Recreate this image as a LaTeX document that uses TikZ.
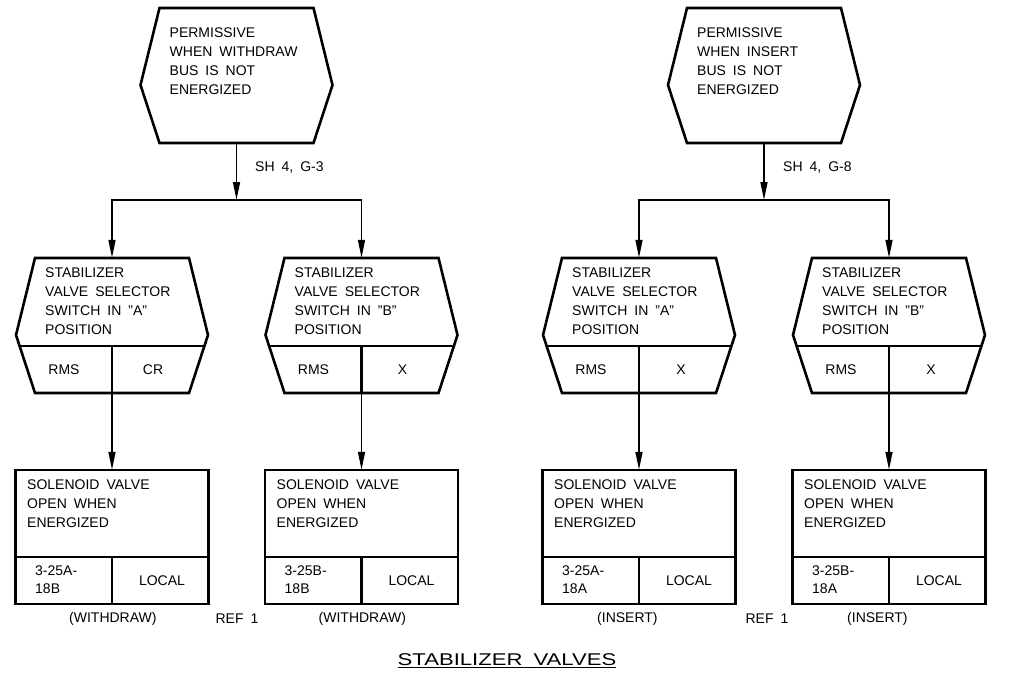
\documentclass[tikz,border=0pt]{standalone}
\usepackage{fontspec}
\setmainfont{Liberation Sans}[WordSpace=1.8]
\newfontfamily\titlefont{Liberation Sans}[FakeStretch=1.3, WordSpace=1.8]
\usetikzlibrary{arrows.meta}
\tikzset{
  outline/.style = {line width=2.6pt, line join=miter},
  conn/.style = {line width=1.5pt, -{Triangle[length=18pt, width=7pt]}},
  txt/.style = {align=left, inner sep=0pt, anchor=north west,
    font=\fontsize{14}{19}\selectfont},% text block, top left
  cell/.style = {inner sep=0pt, font=\fontsize{14}{19}\selectfont},
  hexarea/.style = {rectangle, minimum width=192pt, minimum height=135pt,
    inner sep=0pt},% room of a hexagon block
  solarea/.style = {rectangle, minimum width=193pt, minimum height=134pt,
    inner sep=0pt},% room of a valve block
  hexline/.pic = {
    \draw[outline] (-77,-67.5) -- (77,-67.5) -- (96,9.5) -- (77,67.5)
      -- (-77,67.5) -- (-96,9.5) -- cycle;},
  selline/.pic = {
    \draw[outline] (-77,-67.5) -- (77,-67.5) -- (96,9.5) -- (77,67.5)
      -- (-77,67.5) -- (-96,9.5) -- cycle;
    \draw[outline] (-92.4,20.5) -- (92.4,20.5);
    \draw[outline] (0,20.5) -- (0,67.5);},
  solline/.pic = {
    \draw[outline] (-96.5,-67) rectangle (96.5,67);
    \draw[outline] (-96.5,20) -- (96.5,20);
    \draw[outline] (0,20) -- (0,67);}
}

\begin{document}
\begin{tikzpicture}[x=1pt, y=-1pt]
\useasboundingbox (0,0) rectangle (1014,685);

% withdraw side
\node[hexarea] (permW) at (236.5,75.5) {};
\pic at (permW) {hexline};
\node[txt] (permWtxt) at (169.5,28) {PERMISSIVE\\WHEN WITHDRAW\\BUS IS NOT\\ENERGIZED};
\coordinate (jW) at (236.5,200);
\node[cell, anchor=west] (shW) at (255,168) {SH 4, G-3};

\node[hexarea] (selWA) at (112,325.5) {};
\pic at (selWA) {selline};
\node[txt] (selWAtxt) at (45,268) {STABILIZER\\VALVE SELECTOR\\SWITCH IN "A"\\POSITION};
\node[cell] (selWArms) at (64,369.5) {RMS};
\node[cell] (selWAsta) at (153,369.5) {CR};

\node[hexarea] (selWB) at (361.5,325.5) {};
\pic at (selWB) {selline};
\node[txt] (selWBtxt) at (294.5,268) {STABILIZER\\VALVE SELECTOR\\SWITCH IN "B"\\POSITION};
\node[cell] (selWBrms) at (313.5,369.5) {RMS};
\node[cell] (selWBsta) at (402.5,369.5) {X};

\node[solarea] (solWA) at (112,537) {};
\pic at (solWA) {solline};
\node[txt] (solWAtxt) at (27,480) {SOLENOID VALVE\\OPEN WHEN\\ENERGIZED};
\node[txt, font=\fontsize{14}{18}\selectfont] (solWAtag) at (35,566) {3-25A-\\18B};
\node[cell] (solWAloc) at (162,580.5) {LOCAL};
\node[cell, anchor=west] (solWAside) at (69,619) {(WITHDRAW)};

\node[solarea] (solWB) at (361.5,537) {};
\pic at (solWB) {solline};
\node[txt] (solWBtxt) at (276.5,480) {SOLENOID VALVE\\OPEN WHEN\\ENERGIZED};
\node[txt, font=\fontsize{14}{18}\selectfont] (solWBtag) at (284.5,566) {3-25B-\\18B};
\node[cell] (solWBloc) at (411.5,580.5) {LOCAL};
\node[cell, anchor=west] (solWBside) at (318.5,619) {(WITHDRAW)};

\node[cell] (refW) at (237,619) {REF 1};

\draw[conn] (permW.south) -- (jW);
\draw[conn] (jW) -| (selWA.north);
\draw[conn] (jW) -| (selWB.north);
\draw[conn] (selWA.south) -- (solWA.north);
\draw[conn] (selWB.south) -- (solWB.north);

% insert side
\node[hexarea] (permI) at (764,75.5) {};
\pic at (permI) {hexline};
\node[txt] (permItxt) at (697,28) {PERMISSIVE\\WHEN INSERT\\BUS IS NOT\\ENERGIZED};
\coordinate (jI) at (764,200);
\node[cell, anchor=west] (shI) at (783,168) {SH 4, G-8};

\node[hexarea] (selIA) at (639,325.5) {};
\pic at (selIA) {selline};
\node[txt] (selIAtxt) at (572,268) {STABILIZER\\VALVE SELECTOR\\SWITCH IN "A"\\POSITION};
\node[cell] (selIArms) at (591,369.5) {RMS};
\node[cell] (selIAsta) at (681,369.5) {X};

\node[hexarea] (selIB) at (889,325.5) {};
\pic at (selIB) {selline};
\node[txt] (selIBtxt) at (822,268) {STABILIZER\\VALVE SELECTOR\\SWITCH IN "B"\\POSITION};
\node[cell] (selIBrms) at (841,369.5) {RMS};
\node[cell] (selIBsta) at (931,369.5) {X};

\node[solarea] (solIA) at (639,537) {};
\pic at (solIA) {solline};
\node[txt] (solIAtxt) at (554,480) {SOLENOID VALVE\\OPEN WHEN\\ENERGIZED};
\node[txt, font=\fontsize{14}{18}\selectfont] (solIAtag) at (562,566) {3-25A-\\18A};
\node[cell] (solIAloc) at (689,580.5) {LOCAL};
\node[cell, anchor=west] (solIAside) at (597,619) {(INSERT)};

\node[solarea] (solIB) at (889,537) {};
\pic at (solIB) {solline};
\node[txt] (solIBtxt) at (804,480) {SOLENOID VALVE\\OPEN WHEN\\ENERGIZED};
\node[txt, font=\fontsize{14}{18}\selectfont] (solIBtag) at (812,566) {3-25B-\\18A};
\node[cell] (solIBloc) at (939,580.5) {LOCAL};
\node[cell, anchor=west] (solIBside) at (847,619) {(INSERT)};

\node[cell] (refI) at (767,619) {REF 1};

\draw[conn] (permI.south) -- (jI);
\draw[conn] (jI) -| (selIA.north);
\draw[conn] (jI) -| (selIB.north);
\draw[conn] (selIA.south) -- (solIA.north);
\draw[conn] (selIB.south) -- (solIB.north);

% title
\node[font=\titlefont\fontsize{17}{20}\selectfont] (title) at (507,661)
  {\underline{STABILIZER VALVES}};
\end{tikzpicture}
\end{document}
